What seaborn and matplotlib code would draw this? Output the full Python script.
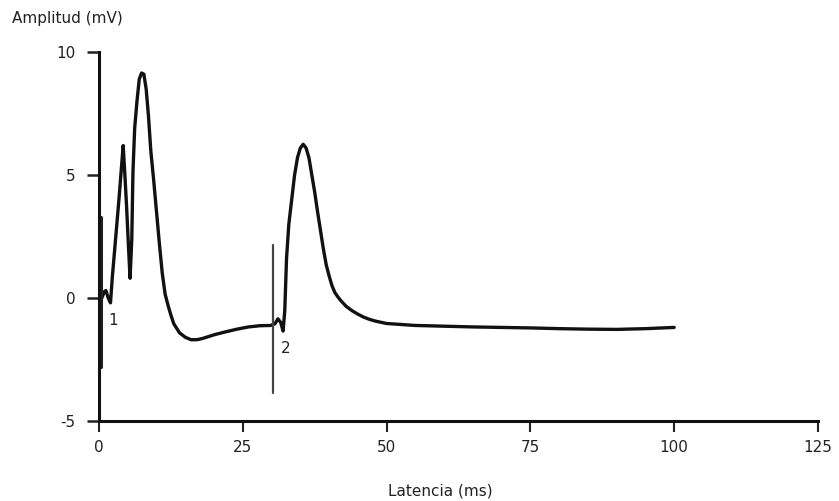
import numpy as np
import pandas as pd
import matplotlib
matplotlib.use("Agg")
import matplotlib.pyplot as plt
import seaborn as sns

# latencia (ms) / amplitud (mV)
lat = [0.5, 0.9, 1.2, 1.6, 2.0, 2.3, 2.7, 3.1, 3.5, 3.9, 4.2, 4.5, 4.8, 5.1, 5.4,
       5.7, 5.9, 6.2, 6.6, 7.0, 7.4, 7.8, 8.2, 8.6, 9.0, 9.5, 10.0, 10.5, 11.0,
       11.5, 12.0, 12.5, 13.0, 14.0, 15.0, 16.0, 17.0, 18.0, 20.0, 22.0, 24.0,
       26.0, 28.0, 29.8, 30.6, 31.1, 31.6, 32.0, 32.3, 32.6, 33.0, 33.5, 34.0,
       34.5, 35.0, 35.5, 36.0, 36.5, 37.0, 37.5, 38.0, 38.5, 39.0, 39.5, 40.0,
       40.5, 41.0, 41.5, 42.0, 43.0, 44.0, 45.0, 46.0, 47.0, 48.0, 50.0, 55.0,
       60.0, 65.0, 70.0, 75.0, 80.0, 85.0, 90.0, 95.0, 100.0]
amp = [0.0, 0.25, 0.3, 0.0, -0.2, 0.8, 1.9, 3.0, 4.1, 5.3, 6.2, 5.0, 3.7, 2.2, 0.8,
       2.4, 5.1, 6.9, 8.0, 8.9, 9.15, 9.1, 8.5, 7.4, 6.0, 4.8, 3.5, 2.2, 1.0,
       0.15, -0.3, -0.7, -1.05, -1.42, -1.6, -1.7, -1.7, -1.65, -1.5, -1.38, -1.27,
       -1.18, -1.13, -1.12, -1.05, -0.85, -1.0, -1.35, -0.5, 1.6, 3.0, 4.0, 5.0,
       5.7, 6.1, 6.25, 6.1, 5.7, 5.0, 4.3, 3.5, 2.75, 2.0, 1.35, 0.9,
       0.5, 0.22, 0.05, -0.1, -0.35, -0.52, -0.66, -0.78, -0.87, -0.94, -1.04, -1.12,
       -1.15, -1.18, -1.2, -1.22, -1.25, -1.27, -1.28, -1.25, -1.2]

# stimulus artifacts (vertical lines)
art1_x = [0.3, 0.3]
art1_y = [3.3, -2.8]
art2_x = [30.2, 30.2]
art2_y = [2.15, -3.85]

df = pd.DataFrame({"lat": lat, "amp": amp})

sns.set_style("ticks")
plt.rcParams["font.family"] = ["DejaVu Sans"]
plt.rcParams["axes.unicode_minus"] = False

fig = plt.figure(figsize=(8.39, 5.01), dpi=100)
ax = fig.add_axes([0.118, 0.16, 0.857, 0.736])

sns.lineplot(data=df, x="lat", y="amp", ax=ax, color="#111111", lw=2.4,
             sort=False, estimator=None)
ax.plot(art1_x, art1_y, color="#222222", lw=2.2, clip_on=False)
ax.plot(art2_x, art2_y, color="#444444", lw=1.6)

ax.text(2.4, -0.9, "1", fontsize=11, color="#222222", ha="center", va="center")
ax.text(32.5, -2.05, "2", fontsize=11, color="#222222", ha="center", va="center")

ax.set_xlim(0, 125)
ax.set_ylim(-5, 10)
ax.set_xticks([0, 25, 50, 75, 100, 125])
ax.set_yticks([-5, 0, 5, 10])
ax.set_xlabel("")
ax.set_ylabel("")
for s in ["top", "right"]:
    ax.spines[s].set_visible(False)
for s in ["left", "bottom"]:
    ax.spines[s].set_linewidth(2.2)
    ax.spines[s].set_color("#111111")
ax.tick_params(axis="y", length=9, width=1.8, pad=8, labelsize=11, colors="#222222")
ax.tick_params(axis="x", length=8, width=1.5, pad=6, labelsize=11, colors="#222222")

fig.text(12 / 839, 1 - 18 / 501, "Amplitud (mV)", fontsize=11, color="#222222",
         ha="left", va="center")
fig.text(440 / 839, 1 - 491 / 501, "Latencia (ms)", fontsize=11, color="#222222",
         ha="center", va="center")

fig.savefig("out.png", dpi=100, facecolor="white")
